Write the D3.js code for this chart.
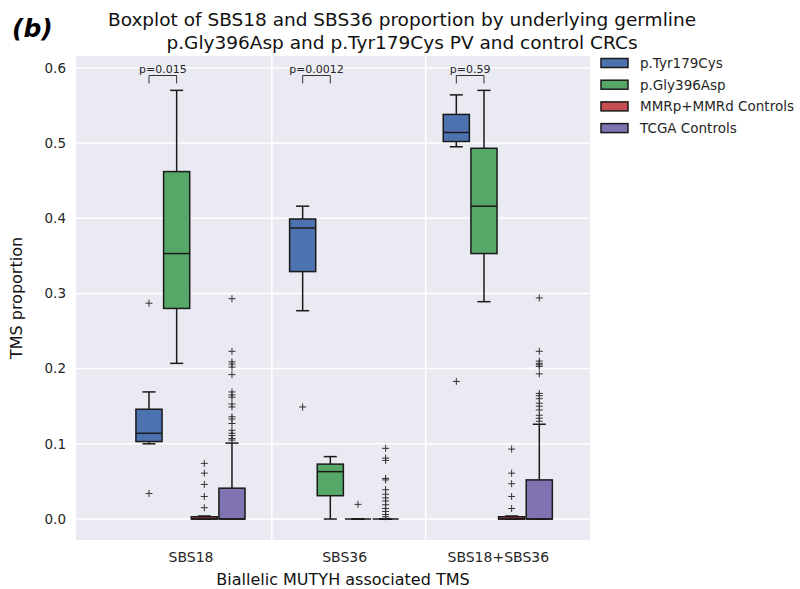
<!DOCTYPE html>
<html>
<head>
<meta charset="utf-8">
<script src="https://cdn.jsdelivr.net/npm/d3@7"></script>
<style>
  body { margin: 0; background: #fff; }
  svg { font-family: "DejaVu Sans", sans-serif; }
</style>
</head>
<body>
<svg id="chart" width="800" height="589"></svg>
<script>
// categories and series
const groups = ["SBS18", "SBS36", "SBS18+SBS36"];
const series = ["p.Tyr179Cys", "p.Gly396Asp", "MMRp+MMRd Controls", "TCGA Controls"];
const colors = ["#4c72b0", "#55a868", "#c44e52", "#8172b2"];
const yTicks = [0.0, 0.1, 0.2, 0.3, 0.4, 0.5, 0.6];

// box stats per series, one entry per group: [whiskerLow, q1, median, q3, whiskerHigh]
const tyrStats = [[0.100, 0.103, 0.114, 0.146, 0.169], [0.277, 0.329, 0.387, 0.399, 0.416], [0.495, 0.502, 0.514, 0.538, 0.564]];
const glyStats = [[0.207, 0.280, 0.353, 0.462, 0.570], [0.000, 0.031, 0.063, 0.073, 0.083], [0.289, 0.353, 0.416, 0.493, 0.570]];
const mmrStats = [[0.000, 0.000, 0.000, 0.003, 0.004], [0, 0, 0, 0, 0], [0.000, 0.000, 0.000, 0.003, 0.004]];
const tcgaStats = [[0.000, 0.000, 0.000, 0.041, 0.101], [0, 0, 0, 0, 0], [0.000, 0.000, 0.000, 0.052, 0.126]];

// outliers per series, one list per group
const tyrOut = [[0.287, 0.034], [0.149], [0.183]];
const glyOut = [[], [], []];
const mmrOut = [[0.074, 0.061, 0.046, 0.030, 0.015], [0.0195], [0.093, 0.061, 0.047, 0.030, 0.014]];
const tcgaOut = [
  [0.293, 0.223, 0.209, 0.206, 0.202, 0.192, 0.169, 0.165, 0.162, 0.153, 0.149, 0.136, 0.133, 0.127, 0.118, 0.114, 0.111, 0.107, 0.105],
  [0.094, 0.081, 0.078, 0.054, 0.052, 0.039, 0.033, 0.028, 0.024, 0.019, 0.014, 0.010, 0.006, 0.003],
  [0.294, 0.223, 0.210, 0.207, 0.205, 0.203, 0.193, 0.167, 0.164, 0.160, 0.154, 0.150, 0.145, 0.138, 0.134, 0.130]
];

const pValues = ["p=0.015", "p=0.0012", "p=0.59"];

const stats = [tyrStats, glyStats, mmrStats, tcgaStats];
const outliers = [tyrOut, glyOut, mmrOut, tcgaOut];

const svg = d3.select("#chart");
const margin = {left: 76, right: 210, top: 56, bottom: 49};
const W = 800, H = 589;

const x = d3.scaleLinear().domain([-0.745, 2.60]).range([margin.left, W - margin.right]);
const y = d3.scaleLinear().domain([-0.0279, 0.6157]).range([H - margin.bottom, margin.top]);
const step = 0.18, boxW = 0.17;
const bx = (g, s) => g + (s - 1.5) * step;
const px = d => x(d) - x(0);

// background + grid
svg.append("rect")
  .attr("x", x.range()[0]).attr("y", y.range()[1])
  .attr("width", x.range()[1] - x.range()[0])
  .attr("height", y.range()[0] - y.range()[1])
  .attr("fill", "#eaeaf2");

svg.append("g").selectAll("line").data(yTicks).join("line")
  .attr("x1", x.range()[0]).attr("x2", x.range()[1])
  .attr("y1", d => y(d)).attr("y2", d => y(d))
  .attr("stroke", "#fff").attr("stroke-width", 1.5);

svg.append("g").selectAll("line").data([0.53, 1.53]).join("line")
  .attr("x1", d => x(d)).attr("x2", d => x(d))
  .attr("y1", y.range()[0]).attr("y2", y.range()[1])
  .attr("stroke", "#fff").attr("stroke-width", 1.5);

// axes
const yAxis = d3.axisLeft(y).tickValues(yTicks).tickFormat(d3.format(".1f")).tickSize(0).tickPadding(10);
svg.append("g").attr("transform", `translate(${margin.left},0)`).call(yAxis)
  .call(g => g.select(".domain").remove())
  .selectAll("text").attr("font-size", 13.5).attr("fill", "#262626")
  .attr("font-family", "DejaVu Sans");

const xAxis = d3.axisBottom(x).tickValues([0, 1, 2]).tickFormat(i => groups[i]).tickSize(0).tickPadding(12);
svg.append("g").attr("transform", `translate(0,${H - margin.bottom})`).call(xAxis)
  .call(g => g.select(".domain").remove())
  .selectAll("text").attr("font-size", 14).attr("fill", "#262626")
  .attr("font-family", "DejaVu Sans");

// boxes
const boxes = [];
stats.forEach((ser, s) => ser.forEach((st, g) => boxes.push({s, g, st})));

const bg = svg.append("g");
boxes.forEach(b => {
  const cx = x(bx(b.g, b.s));
  const hw = px(boxW) / 2;
  const [lo, q1, med, q3, hi] = b.st;
  const grp = bg.append("g").attr("stroke", "#1a1a1a").attr("stroke-width", 1.5);
  // whiskers
  grp.append("line").attr("x1", cx).attr("x2", cx).attr("y1", y(q3)).attr("y2", y(hi));
  grp.append("line").attr("x1", cx).attr("x2", cx).attr("y1", y(q1)).attr("y2", y(lo));
  grp.append("line").attr("x1", cx - hw / 2).attr("x2", cx + hw / 2).attr("y1", y(hi)).attr("y2", y(hi));
  grp.append("line").attr("x1", cx - hw / 2).attr("x2", cx + hw / 2).attr("y1", y(lo)).attr("y2", y(lo));
  grp.append("rect")
    .attr("x", cx - hw).attr("width", hw * 2)
    .attr("y", y(q3)).attr("height", Math.max(0, y(q1) - y(q3)))
    .attr("fill", colors[b.s]);
  grp.append("line").attr("x1", cx - hw).attr("x2", cx + hw).attr("y1", y(med)).attr("y2", y(med));
});

// outliers
const pts = [];
outliers.forEach((ser, s) => ser.forEach((list, g) => list.forEach(v => pts.push({s, g, v}))));
svg.append("g").selectAll("path").data(pts).join("path")
  .attr("d", d => {
    const cx = x(bx(d.g, d.s)), cy = y(d.v), r = 3.5;
    return `M${cx - r},${cy}H${cx + r}M${cx},${cy - r}V${cy + r}`;
  })
  .attr("stroke", "#333").attr("stroke-width", 1);

// p-value brackets
const pg = svg.append("g");
pValues.forEach((p, g) => {
  const x1 = x(bx(g, 0)), x2 = x(bx(g, 1));
  const top = 75.5, bot = 83.5;
  pg.append("path")
    .attr("d", `M${x1},${bot}V${top}H${x2}V${bot}`)
    .attr("fill", "none").attr("stroke", "#333").attr("stroke-width", 1);
  pg.append("text").attr("x", (x1 + x2) / 2).attr("y", 73)
    .attr("text-anchor", "middle").attr("font-size", 11).attr("fill", "#262626")
    .text(p);
});

// titles
svg.append("text").attr("x", 12).attr("y", 37)
  .attr("font-size", 25).attr("font-weight", "bold").attr("font-style", "italic")
  .text("(b)");
const title = svg.append("text").attr("text-anchor", "middle").attr("font-size", 18.5).attr("fill", "#111");
title.append("tspan").attr("x", 402).attr("y", 26).text("Boxplot of SBS18 and SBS36 proportion by underlying germline");
title.append("tspan").attr("x", 402).attr("y", 49).text("p.Gly396Asp and p.Tyr179Cys PV and control CRCs");

svg.append("text")
  .attr("transform", `translate(22,${(y.range()[0] + y.range()[1]) / 2}) rotate(-90)`)
  .attr("text-anchor", "middle").attr("font-size", 16).attr("fill", "#111")
  .text("TMS proportion");
svg.append("text").attr("x", 343).attr("y", 585)
  .attr("text-anchor", "middle").attr("font-size", 16).attr("fill", "#111")
  .text("Biallelic MUTYH associated TMS");

// legend
const lg = svg.append("g").attr("transform", "translate(601,63)");
series.forEach((name, i) => {
  const row = lg.append("g").attr("transform", `translate(0,${i * 21.7})`);
  row.append("rect").attr("x", 0).attr("y", -4.5).attr("width", 27).attr("height", 9)
    .attr("fill", colors[i]).attr("stroke", "#1a1a1a").attr("stroke-width", 1.5);
  row.append("text").attr("x", 39).attr("y", 5).attr("font-size", 13.5).attr("fill", "#262626")
    .text(name);
});
</script>
</body>
</html>
